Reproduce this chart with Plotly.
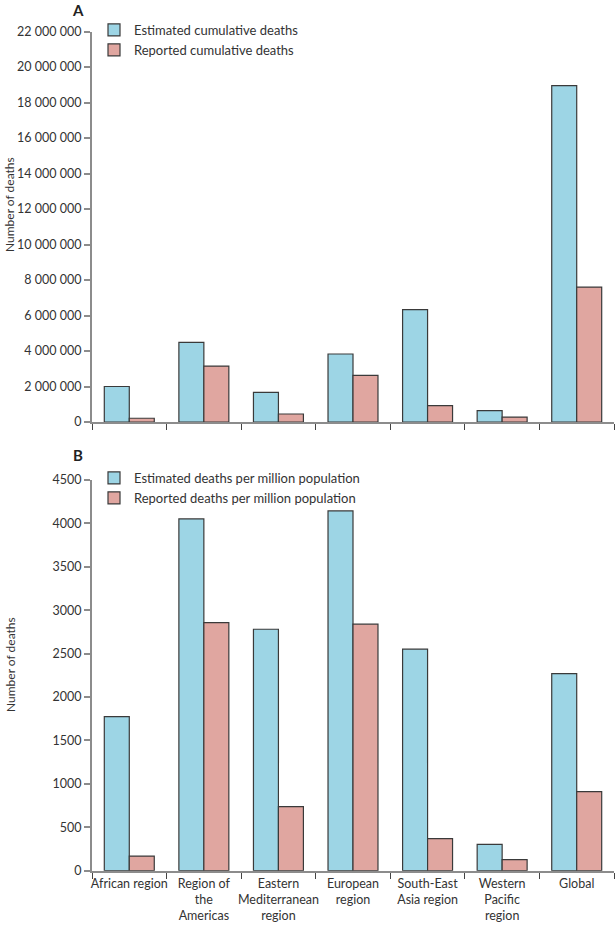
import plotly.graph_objects as go

regions = ["African region", "Region of<br>the<br>Americas", "Eastern<br>Mediterranean<br>region",
           "European<br>region", "South-East<br>Asia region", "Western<br>Pacific<br>region", "Global"]

est_cum = [2000000, 4490000, 1670000, 3830000, 6330000, 640000, 18950000]
rep_cum = [210000, 3150000, 450000, 2630000, 920000, 280000, 7600000]

est_pm = [1774, 4052, 2781, 4144, 2551, 304, 2270]
rep_pm = [169, 2857, 737, 2839, 369, 127, 910]

ticks_a = list(range(0, 22000001, 2000000))
ticks_a_text = ["{:,}".format(v).replace(",", " ") for v in ticks_a]
ticks_b = list(range(0, 4501, 500))
ticks_b_text = [str(v) for v in ticks_b]

BLUE = "#9dd5e5"
PINK = "#e0a6a0"
EDGE = "#3a3a3a"
AXIS = "#8c8c8c"
TXT = "#333333"
FONT = "Lato"

W, H = 616, 927
ML = 92
MR = W - 614
PW = W - ML - MR

def px_x(p):
    return (p - ML) / PW

def px_y(p):
    return 1 - p / H

fig = go.Figure()
fig.add_bar(x=regions, y=est_cum, name="Estimated cumulative deaths", marker=dict(color=BLUE, line=dict(color=EDGE, width=1.2)),
            xaxis="x", yaxis="y", legend="legend")
fig.add_bar(x=regions, y=rep_cum, name="Reported cumulative deaths", marker=dict(color=PINK, line=dict(color=EDGE, width=1.2)),
            xaxis="x", yaxis="y", legend="legend")
fig.add_bar(x=regions, y=est_pm, name="Estimated deaths per million population", marker=dict(color=BLUE, line=dict(color=EDGE, width=1.2)),
            xaxis="x2", yaxis="y2", legend="legend2")
fig.add_bar(x=regions, y=rep_pm, name="Reported deaths per million population", marker=dict(color=PINK, line=dict(color=EDGE, width=1.2)),
            xaxis="x2", yaxis="y2", legend="legend2")

xcommon = dict(showline=True, linecolor=AXIS, linewidth=2, ticks="outside", tickson="boundaries",
               ticklen=6, tickcolor="#444", tickwidth=1, showgrid=False, zeroline=False,
               automargin=False, domain=[0, 1], tickangle=0)
ycommon = dict(showline=True, linecolor=AXIS, linewidth=2, ticks="outside", ticklen=6, tickcolor=AXIS,
               tickwidth=1.5, showgrid=False, zeroline=False, automargin=False,
               tickfont=dict(family=FONT, size=12.5, color=TXT))

fig.update_layout(
    width=W, height=H,
    margin=dict(l=ML, r=MR, t=0, b=0),
    paper_bgcolor="white", plot_bgcolor="white",
    barmode="group", bargap=0.33, bargroupgap=0,
    font=dict(family=FONT, size=12, color=TXT),
    showlegend=True,
    xaxis=dict(**xcommon, anchor="y", showticklabels=False),
    yaxis=dict(**ycommon, anchor="x", domain=[px_y(422), px_y(31.5)], range=[0, 22000000],
               tickvals=ticks_a, ticktext=ticks_a_text),
    xaxis2=dict(**xcommon, anchor="y2", tickfont=dict(family=FONT, size=12.5, color=TXT)),
    yaxis2=dict(**ycommon, anchor="x2", domain=[px_y(870.7), px_y(480)], range=[0, 4500],
                tickvals=ticks_b, ticktext=ticks_b_text),
    legend=dict(x=px_x(94), y=px_y(15), xanchor="left", yanchor="top", bgcolor="rgba(0,0,0,0)",
                font=dict(family=FONT, size=13, color=TXT), tracegroupgap=0, itemclick=False),
    legend2=dict(x=px_x(94), y=px_y(463), xanchor="left", yanchor="top", bgcolor="rgba(0,0,0,0)",
                 font=dict(family=FONT, size=13, color=TXT), tracegroupgap=0, itemclick=False),
    annotations=[
        dict(text="<b>A</b>", x=px_x(78), y=px_y(10), xref="paper", yref="paper", showarrow=False,
             xanchor="center", yanchor="middle", font=dict(family=FONT, size=15, color="#222")),
        dict(text="<b>B</b>", x=px_x(78), y=px_y(455), xref="paper", yref="paper", showarrow=False,
             xanchor="center", yanchor="middle", font=dict(family=FONT, size=15, color="#222")),
        dict(text="Number of deaths", x=px_x(10), y=px_y(205), xref="paper", yref="paper", showarrow=False,
             xanchor="center", yanchor="middle", textangle=-90, font=dict(family=FONT, size=12, color=TXT)),
        dict(text="Number of deaths", x=px_x(10), y=px_y(665), xref="paper", yref="paper", showarrow=False,
             xanchor="center", yanchor="middle", textangle=-90, font=dict(family=FONT, size=12, color=TXT)),
    ],
)

fig.write_html("out.html", config={"displayModeBar": False},
               post_script="document.body.style.margin='0px';")
